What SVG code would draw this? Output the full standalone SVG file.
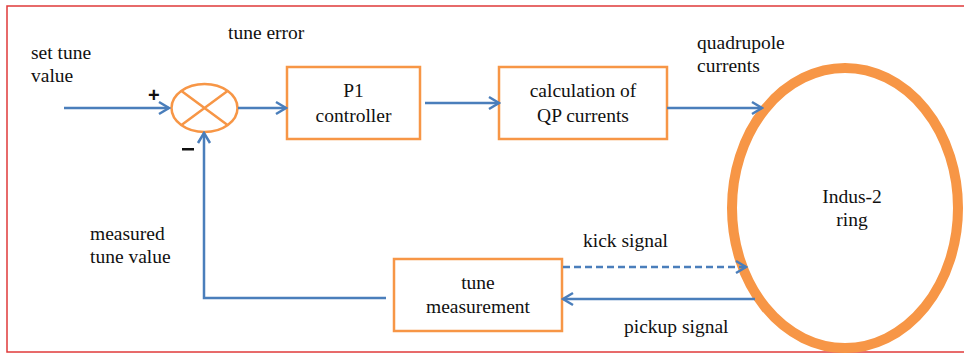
<svg xmlns="http://www.w3.org/2000/svg" width="964" height="356" viewBox="0 0 964 356">
<style>
text{font-family:"Liberation Serif","DejaVu Serif","Times New Roman",serif;font-size:19.5px;fill:#111}
.c{text-anchor:middle}
.box{fill:#fff;stroke:#f79646;stroke-width:2.5}
.ln{fill:none;stroke:#4a7ebb;stroke-width:2.5}
</style>
<defs>
<marker id="ah" markerUnits="userSpaceOnUse" markerWidth="14" markerHeight="16" viewBox="-12 -8 14 16" refX="0" refY="0" orient="auto">
<path d="M-10,-6 L0,0 L-10,6" fill="none" stroke="#4a7ebb" stroke-width="2.5"/>
</marker>
</defs>
<rect x="7" y="6" width="970" height="346" fill="#fff" stroke="#e03a3a" stroke-width="1.5"/>
<g id="sum">
<ellipse cx="204.5" cy="108" rx="33" ry="24" fill="#fff" stroke="#f79646" stroke-width="2.5"/>
<path d="M181.5,91 L227.5,125 M227.5,91 L181.5,125" stroke="#f79646" stroke-width="2.5"/>
</g>
<g id="p1">
<rect class="box" x="287" y="67" width="133" height="72"/>
<text class="c" x="353.5" y="97">P1</text>
<text class="c" x="353.5" y="122">controller</text>
</g>
<g id="calc">
<rect class="box" x="499" y="67" width="168" height="72"/>
<text class="c" x="583" y="97">calculation of</text>
<text class="c" x="583" y="122">QP currents</text>
</g>
<g id="ring">
<ellipse cx="845" cy="208" rx="113" ry="140" fill="#fff" stroke="#f79646" stroke-width="10"/>
<text class="c" x="852" y="203">Indus-2</text>
<text class="c" x="852" y="226">ring</text>
</g>
<g id="tm">
<rect class="box" x="394" y="259" width="168" height="72"/>
<text class="c" x="478" y="289">tune</text>
<text class="c" x="478" y="313">measurement</text>
</g>
<g id="connectors">
<path class="ln" d="M64,108 H169" marker-end="url(#ah)"/>
<path class="ln" d="M238,108 H286" marker-end="url(#ah)"/>
<path class="ln" d="M425,103 H499" marker-end="url(#ah)"/>
<path class="ln" d="M667,108 H762" marker-end="url(#ah)"/>
<path class="ln" d="M386,298 H204 V133" marker-end="url(#ah)"/>
<path class="ln" d="M563,267 H746" stroke-dasharray="7,4" marker-end="url(#ah)"/>
<path class="ln" d="M755,299 H563" marker-end="url(#ah)"/>
</g>
<g id="labels">
<text x="31" y="59">set tune</text>
<text x="31" y="82">value</text>
<text x="228" y="39">tune error</text>
<text x="148" y="102" style="font-family:'Liberation Sans',Arial,sans-serif;font-size:20px;font-weight:bold">+</text>
<rect x="182" y="148" width="12" height="2.5" fill="#111"/>
<text x="697" y="49">quadrupole</text>
<text x="697" y="72">currents</text>
<text x="90" y="240">measured</text>
<text x="90" y="263">tune value</text>
<text x="583" y="247">kick signal</text>
<text x="624" y="333">pickup signal</text>
</g>
</svg>
